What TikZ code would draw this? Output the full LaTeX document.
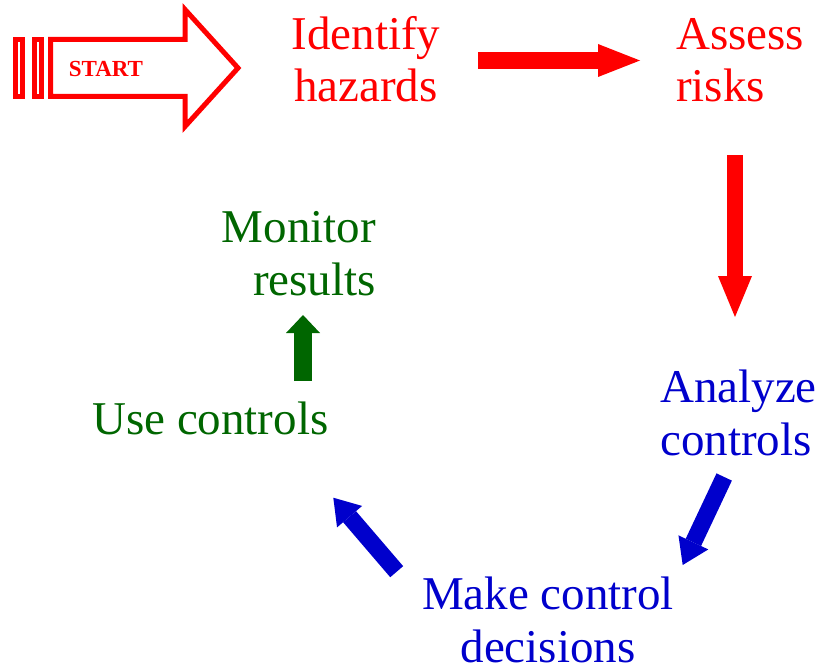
\documentclass[tikz,border=0pt]{standalone}
\usepackage{fontspec}
\setmainfont{Liberation Serif}
\usetikzlibrary{arrows.meta}
\definecolor{stepred}{RGB}{255,0,0}
\definecolor{stepgreen}{RGB}{0,102,0}
\definecolor{stepblue}{RGB}{0,0,204}
\tikzset{
	steptext/.style={inner sep=0pt, font=\fontsize{47}{52.5}\selectfont},
	bigarrow/.style n args={3}{line width=#1, -{Triangle[length=#2, width=#3, line width=0pt]}}
}
\begin{document}
\begin{tikzpicture}[x=1pt, y=-1pt]
	\useasboundingbox (0,0) rectangle (820,669);
	% start arrow
	\draw[line width=5pt, stepred] (15.5,39.5) rectangle (22.5,96.5);
	\draw[line width=5pt, stepred] (34.5,39.5) rectangle (41.5,96.5);
	\draw[line width=5pt, stepred, line join=miter] (50.5,39.5) -- (185,39.5) -- (185,9.5) -- (238,68) -- (185,126.5) -- (185,96.5) -- (50.5,96.5) -- cycle;
	\node[stepred, inner sep=0pt, anchor=base, font=\fontsize{23}{23}\selectfont\bfseries] (start) at (106,77) {START};
	% step labels (base = last line)
	\node[steptext, stepred, align=center, anchor=base] (identify) at (366,102) {Identify\\hazards};
	\node[steptext, stepred, align=left, anchor=base west] (assess) at (676,102) {Assess\\risks};
	\node[steptext, stepblue, align=left, anchor=base west] (analyze) at (660,455) {Analyze\\controls};
	\node[steptext, stepblue, align=center, anchor=base] (decide) at (548,662) {Make control\\decisions};
	\node[steptext, stepgreen, anchor=base west] (use) at (92,434) {Use controls};
	\node[steptext, stepgreen, align=right, anchor=base east] (monitor) at (376,295) {Monitor\\results};
	% arrows
	\coordinate (a1) at (478,60.5);   \coordinate (b1) at (640,60.5);
	\coordinate (a2) at (735,155);    \coordinate (b2) at (735,317);
	\coordinate (a3) at (724.2,477);  \coordinate (b3) at (682.7,565);
	\coordinate (a4) at (396.7,571.7);\coordinate (b4) at (333.3,497.7);
	\coordinate (a5) at (303,381);    \coordinate (b5) at (303,315);
	\draw[stepred, bigarrow={17pt}{42pt}{33pt}] (a1) -- (b1);
	\draw[stepred, bigarrow={16pt}{41pt}{34pt}] (a2) -- (b2);
	\draw[stepblue, bigarrow={17pt}{25pt}{33pt}] (a3) -- (b3);
	\draw[stepblue, bigarrow={17pt}{25pt}{33pt}] (a4) -- (b4);
	\draw[stepgreen, bigarrow={18pt}{18pt}{34pt}] (a5) -- (b5);
\end{tikzpicture}
\end{document}
